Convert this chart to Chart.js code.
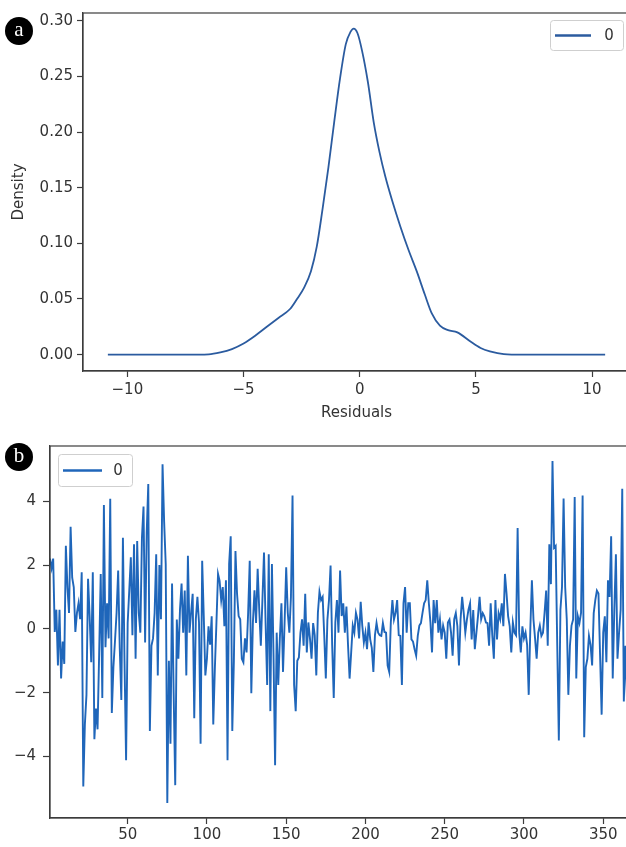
<!DOCTYPE html>
<html>
<head>
<meta charset="utf-8">
<script src="https://cdn.jsdelivr.net/npm/chart.js@4/dist/chart.umd.min.js"></script>
<style>
  html, body { margin: 0; padding: 0; background: #fff; overflow: hidden; width: 626px; height: 847px; }
  canvas { position: absolute; left: 0; }
  #densityChart { top: 0; }
  #residualChart { top: 430px; }
  .badge {
    position: absolute; left: 5px; width: 28px; height: 28px; border-radius: 50%;
    background: #000; color: #fff; font: 21px "Liberation Serif", "DejaVu Serif", serif;
    text-align: center; line-height: 25px;
  }
</style>
</head>
<body>
<canvas id="densityChart" width="632" height="425"></canvas>
<canvas id="residualChart" width="632" height="417"></canvas>
<div class="badge" style="top:17px">a</div>
<div class="badge" style="top:443px">b</div>
<script>
// (a) kernel density of the residuals
const kdeX = [-10.84, -9, -7.5, -6.5, -6.0, -5.5, -5.0, -4.5, -4.0, -3.5, -3.0, -2.7, -2.4, -2.1, -1.85,
  -1.6, -1.35, -1.1, -0.85, -0.6, -0.4, -0.26, -0.1, 0.1, 0.35, 0.6, 0.85, 1.1, 1.4, 1.75,
  2.1, 2.45, 2.8, 3.1, 3.45, 3.8, 4.2, 4.75, 5.2, 5.6, 6.2, 7.0, 8.5, 10.56];
const kdeY = [0, 0, 0, 0.0003, 0.002, 0.005, 0.010, 0.017, 0.025, 0.033, 0.041, 0.050, 0.060, 0.075, 0.097,
  0.131, 0.168, 0.209, 0.248, 0.279, 0.290, 0.293, 0.289, 0.273, 0.245, 0.209, 0.182, 0.160, 0.138, 0.115,
  0.094, 0.075, 0.054, 0.037, 0.026, 0.022, 0.020, 0.012, 0.006, 0.003, 0.0005, 0, 0, 0];
const densityTicksX = [-10, -5, 0, 5, 10];
const densityTicksY = [0, 0.05, 0.10, 0.15, 0.20, 0.25, 0.30];

// (b) residuals over time, index 1..365
const residuals = [
  2.2, 1.9, 2.2, -0.1, 0.6, -1.15, 0.6, -1.56, -0.4, -1.1,
  2.6, 1.3, 0.5, 3.2, 1.6, 1.3, -0.1, 0.5, 0.8, 0.3,
  1.77, -4.94, -3.0, -2.07, 1.57, 0.4, -1.05, 1.77, -3.46, -2.5,
  -3.15, -0.8, 1.72, -2.17, 3.88, -0.58, 0.8, -0.3, 4.08, -2.64,
  -1.2, -0.38, 0.5, 1.83, -0.6, -2.23, 2.85, -1.0, -4.12, 0.18,
  1.2, 2.24, -0.2, 2.65, -0.94, 2.75, 0.5, -0.12, 2.85, 3.83,
  -0.43, 3.0, 4.54, -3.2, -0.53, -0.3, 0.5, 2.34, -1.46, 2.0,
  0.3, 5.16, 3.36, 2.03, -5.46, -1.0, -3.6, 1.42, -2.0, -4.9,
  0.29, -0.94, 0.6, 1.42, -0.12, 1.2, -1.46, 2.29, -0.12, 0.5,
  1.1, -2.8, 0.3, 1.0, 0.2, -3.6, 2.13, 0.4, -1.46, -0.94,
  0.08, -0.5, 0.39, -3.0, -1.25, 0.2, 1.72, 1.5, 0.9, 1.31,
  0.08, 1.52, -4.12, 2.03, 2.9, -3.2, -1.0, 2.44, 1.1, 0.4,
  0.3, -0.94, -1.05, -0.3, -0.74, 0.5, 2.13, -2.02, 0.2, 1.21,
  0.18, 1.88, 0.6, -0.53, 0.9, 2.39, 0.2, -1.76, 2.34, -2.58,
  2.03, -0.8, -4.28, -0.12, -1.76, -0.3, 0.8, -1.35, 0.2, 1.93,
  0.5, -0.12, 1.0, 4.18, -1.76, -2.58, -1.0, -0.9, -0.12, 0.3,
  -0.53, 1.1, -0.74, 0.2, -0.3, -0.94, 0.18, -0.2, -1.46, 0.5,
  1.16, 0.9, 1.0, -0.2, -1.56, 0.28, 0.9, 1.98, -0.5, -2.17,
  0.2, 0.9, -0.12, 1.83, 0.4, 0.8, -0.12, 0.7, -0.5, -1.56,
  -0.74, 0.1, -0.12, 0.5, 0.29, -0.3, 0.85, 0.1, -0.43, -0.12,
  -0.64, 0.2, -0.33, -0.6, -1.35, -0.2, 0.18, -0.12, -0.2, -0.22,
  0.18, -0.1, -0.12, -1.15, -1.35, 0.2, 0.9, 0.29, 0.5, 0.9,
  -0.2, -0.22, -1.76, 0.8, 1.31, -0.12, 0.8, 0.8, -0.33, -0.4,
  -0.64, -0.84, -0.22, 0.1, 0.18, 0.5, 0.8, 0.9, 1.52, 0.8,
  0.2, -0.74, 0.9, 0.18, 0.9, -0.12, 0.29, -0.33, 0.1, -0.12,
  -0.94, 0.2, 0.29, -0.12, -0.84, 0.3, 0.49, 0.08, -1.15, 0.29,
  1.0, 0.5, -0.12, 0.29, 0.6, 0.8, -0.33, 0.59, -0.64, -0.12,
  0.4, 1.0, 0.3, 0.49, 0.39, 0.2, 0.18, -0.53, 0.8, -0.2,
  -0.94, 0.9, -0.33, 0.49, 0.3, 0.8, 0.08, 1.72, 1.11, 0.4,
  0.08, -0.74, 0.2, -0.12, -0.2, 3.16, -0.12, -0.74, 0.08, -0.3,
  -0.12, -0.5, -2.07, -0.02, 1.52, 0.29, -0.3, -0.94, -0.12, 0.1,
  -0.22, -0.12, 0.5, 1.2, -0.53, 2.65, 1.4, 5.26, 2.54, 2.6,
  -0.53, -3.5, 0.6, 1.31, 4.08, 1.31, 0.3, -2.07, -0.53, 0.1,
  0.29, 4.13, -1.56, 0.39, 0.18, 0.5, 4.18, -3.4, -1.2, -0.94,
  -0.22, -0.5, -1.15, 0.49, 0.9, 1.2, 1.11, -0.8, -2.69, -0.12,
  0.39, -1.05, 1.52, 1.0, 2.9, -1.56, 0.6, 2.34, -0.94, -0.12,
  0.6, 4.39, -2.28, -0.53, -2.2
];
const residualTicksX = [50, 100, 150, 200, 250, 300, 350];
const residualTicksY = [-4, -2, 0, 2, 4];

const AXIS = '#3c3c3c';
const TEXT = '#333';
const FONT = 'DejaVu Sans';
const minus = s => String(s).replace('-', '\u2212');

// full matplotlib-style box round the plot area
const frame = {
  id: 'frame',
  afterDraw(chart) {
    const {ctx, chartArea: a} = chart;
    ctx.save();
    ctx.strokeStyle = AXIS;
    ctx.lineWidth = 1.2;
    ctx.strokeRect(a.left, a.top, a.right - a.left, a.bottom - a.top);
    ctx.restore();
  }
};

// legend box drawn inside the plot area
const innerLegend = {
  id: 'innerLegend',
  afterDraw(chart, args, opts) {
    const {ctx, chartArea: a} = chart;
    const ds = chart.data.datasets[0];
    const x = opts.side === 'right' ? a.right - opts.margin - opts.width : a.left + opts.margin;
    const y = a.top + opts.margin;
    ctx.save();
    ctx.fillStyle = 'rgba(255,255,255,0.9)';
    ctx.strokeStyle = '#cfcfcf';
    ctx.lineWidth = 1;
    ctx.beginPath();
    ctx.roundRect(x + 0.5, y + 0.5, opts.width, opts.height, 3);
    ctx.fill();
    ctx.stroke();
    const my = y + opts.height / 2 + 0.5;
    ctx.strokeStyle = ds.borderColor;
    ctx.lineWidth = 2.4;
    ctx.beginPath();
    ctx.moveTo(x + 5, my);
    ctx.lineTo(x + 5 + opts.lineLen, my);
    ctx.stroke();
    ctx.fillStyle = TEXT;
    ctx.font = '15px "' + FONT + '"';
    ctx.textAlign = 'center';
    ctx.textBaseline = 'middle';
    ctx.fillText(ds.label, x + opts.textX, my + 1);
    ctx.restore();
  }
};

function axis(min, max, ticks, fmt, fit, extra) {
  return Object.assign({
    type: 'linear',
    min: min,
    max: max,
    afterBuildTicks: s => { s.ticks = ticks.map(v => ({value: v})); },
    afterFit: fit,
    grid: { drawOnChartArea: false, drawTicks: true, tickLength: 6, tickColor: AXIS, tickWidth: 1.2 },
    border: { display: true, color: AXIS, width: 1.2 },
    ticks: { color: TEXT, font: { family: FONT, size: 15 }, padding: 4, maxRotation: 0, autoSkip: false, callback: fmt }
  }, extra || {});
}

Chart.defaults.font.family = FONT;
Chart.defaults.animation = false;

new Chart(document.getElementById('densityChart'), {
  type: 'line',
  data: {
    datasets: [{
      label: '0',
      data: kdeX.map((x, i) => ({x: x, y: kdeY[i]})),
      borderColor: '#2b5b9f',
      borderWidth: 1.8,
      pointRadius: 0,
      cubicInterpolationMode: 'monotone'
    }]
  },
  options: {
    responsive: false,
    devicePixelRatio: 1,
    layout: { padding: { top: 13, right: 2, left: 0, bottom: 0 } },
    plugins: {
      legend: { display: false },
      tooltip: { enabled: false },
      innerLegend: { side: 'right', margin: 7, width: 73, height: 30, lineLen: 36, textX: 59 }
    },
    scales: {
      x: axis(-11.91, 11.63, densityTicksX, v => minus(v), s => { s.height = 54; }, {
        title: { display: true, text: 'Residuals', color: TEXT, font: { family: FONT, size: 15 }, padding: { top: 0, bottom: 3 } }
      }),
      y: axis(-0.0147, 0.307, densityTicksY, v => v.toFixed(2), s => { s.width = 83; }, {
        title: { display: true, text: 'Density', color: TEXT, font: { family: FONT, size: 15 }, padding: { top: 10, bottom: 0 } }
      })
    }
  },
  plugins: [frame, innerLegend]
});

const residualData = residuals.map((v, i) => ({x: i + 1, y: v}));
const residualX = axis(1, 365, residualTicksX, v => minus(v), s => { s.height = 29; });
residualX.ticks.padding = 2;
const residualY = axis(-5.93, 5.73, residualTicksY, v => minus(v), s => { s.width = 50; });
residualY.grid.tickLength = 7;
residualY.ticks.padding = 7;

new Chart(document.getElementById('residualChart'), {
  type: 'line',
  data: {
    datasets: [{
      label: '0',
      data: residualData,
      borderColor: '#1f66ba',
      borderWidth: 1.9,
      pointRadius: 0,
      tension: 0
    }]
  },
  options: {
    responsive: false,
    devicePixelRatio: 1,
    layout: { padding: { top: 5, right: 5, left: 0, bottom: 0 } },
    plugins: {
      legend: { display: false },
      tooltip: { enabled: false },
      innerLegend: { side: 'left', margin: 8, width: 74, height: 32, lineLen: 39, textX: 60 }
    },
    scales: { x: residualX, y: residualY }
  },
  plugins: [frame, innerLegend]
});
</script>
</body>
</html>
